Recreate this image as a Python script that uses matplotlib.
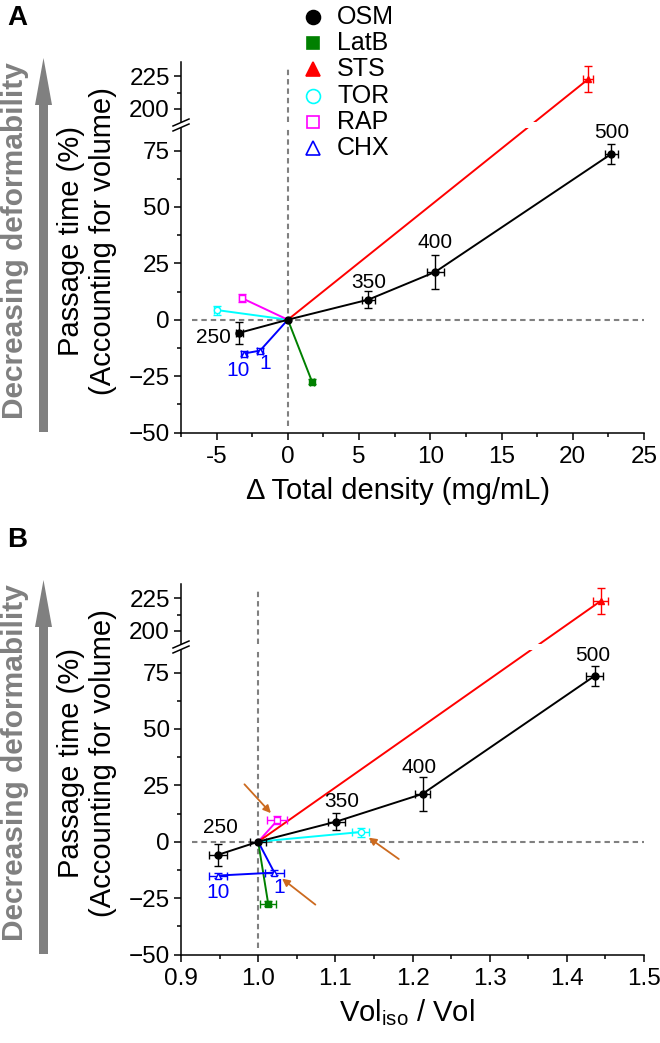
import matplotlib
matplotlib.use("Agg")
import matplotlib.pyplot as plt
from matplotlib.lines import Line2D
from matplotlib.patches import FancyArrow
from matplotlib.ticker import MultipleLocator

plt.rcParams["font.family"] = ["Liberation Sans", "DejaVu Sans"]
plt.rcParams["mathtext.fontset"] = "custom"
plt.rcParams["mathtext.rm"] = "Liberation Sans"

# --- Data ---
# OSM series: 250, 300 (iso = origin), 350, 400, 500 mOsm
osm_labels = ["250", "", "350", "400", "500"]
osm_density = [-3.4, 0.0, 5.65, 10.35, 22.7]
osm_density_err = [0.25, 0.0, 0.47, 0.6, 0.47]
osm_vol = [0.948, 1.0, 1.101, 1.213, 1.436]
osm_vol_err = [0.012, 0.01, 0.011, 0.0095, 0.011]
osm_pt = [-5.8, 0.0, 8.9, 21.2, 73.5]
osm_pt_err = [5.0, 0.0, 3.7, 7.4, 4.6]

drug_names = ["LatB", "STS", "TOR", "RAP"]
drug_density = [1.7, 21.1, -5.0, -3.2]
drug_density_err = [0.15, 0.35, 0.2, 0.2]
drug_vol = [1.013, 1.444, 1.133, 1.025]
drug_vol_err = [0.01, 0.0095, 0.011, 0.013]
drug_pt = [-27.5, 223.0, 4.3, 9.5]
drug_pt_err = [1.0, 10.0, 2.0, 1.8]

chx_doses = ["1", "10"]
chx_density = [-1.95, -3.1]
chx_density_err = [0.2, 0.2]
chx_vol = [1.021, 0.948]
chx_vol_err = [0.012, 0.012]
chx_pt = [-13.7, -15.0]
chx_pt_err = [1.2, 1.2]

legend_names = ["OSM", "LatB", "STS", "TOR", "RAP", "CHX"]
colors = {"OSM": "black", "LatB": "#008000", "STS": "#ff0000",
          "TOR": "#00ffff", "RAP": "#ff00ff", "CHX": "#0000ff"}
markers = {"OSM": "o", "LatB": "s", "STS": "^", "TOR": "o", "RAP": "s", "CHX": "^"}
filled = {"OSM": True, "LatB": True, "STS": True, "TOR": False, "RAP": False, "CHX": False}

W, H = 660, 1043
fig = plt.figure(figsize=(W / 100, H / 100), dpi=100)


def rect(l, t, r, b):
    return [l / W, 1 - b / H, (r - l) / W, (b - t) / H]


def px(x, y):
    return x / W, 1 - y / H


def point(ax, x, y, xe, ye, name, ms=4.5):
    c = colors[name]
    kw = dict(fmt="none", ecolor=c, elinewidth=1, capsize=3, capthick=1, zorder=4)
    if xe > 0:
        ax.errorbar([x], [y], xerr=[xe], **kw)
    if ye > 0:
        ax.errorbar([x], [y], yerr=[ye], **kw)
    ax.plot([x], [y], marker=markers[name], ms=ms, color=c,
            mfc=c if filled[name] else "white", mec=c, mew=1, zorder=5, ls="none")


def panel(dy, letter, xs, xlim, xmaj, xmin, xlabel, xlabel_x, dash_x0, label_offs,
          chx_offs, arrows=False):
    osm_x, osm_xe, drug_x, drug_xe, chx_x, chx_xe = xs
    left, right = 181, 644
    hi = fig.add_axes(rect(left, 62 + dy, right, 122 + dy))
    lo = fig.add_axes(rect(left, 128 + dy, right, 432.5 + dy))
    for ax in (hi, lo):
        ax.set_xlim(*xlim)
        ax.spines["top"].set_visible(False)
        ax.spines["right"].set_visible(False)
        ax.spines["left"].set_linewidth(1.1)
        ax.spines["bottom"].set_linewidth(1.1)
        ax.yaxis.set_minor_locator(MultipleLocator(12.5))
        ax.xaxis.set_major_locator(MultipleLocator(xmaj))
        ax.xaxis.set_minor_locator(MultipleLocator(xmin))
        ax.tick_params(which="major", length=5, width=1.1, labelsize=17.5, pad=3)
        ax.tick_params(which="minor", length=3, width=1.1)
        ax.patch.set_alpha(0)
    hi.set_ylim(190, 236)
    hi.set_yticks([200, 225])
    hi.spines["bottom"].set_visible(False)
    hi.tick_params(axis="x", which="both", bottom=False, labelbottom=False)
    lo.set_ylim(-50, 85)
    lo.set_yticks([-50, -25, 0, 25, 50, 75])
    if xmaj < 1:
        lo.xaxis.set_major_formatter(plt.FuncFormatter(lambda v, p: f"{v:.1f}"))
    else:
        lo.xaxis.set_major_formatter(plt.FuncFormatter(lambda v, p: f"{v:.0f}"))
    lo.tick_params(axis="x", pad=5)

    # reference lines
    ref = dict(color="#808080", lw=1.5, ls=(0, (2.6, 1.9)), zorder=1)
    x0 = osm_x[1]
    lo.plot([dash_x0, xlim[1]], [0, 0], **ref)
    lo.plot([x0, x0], [-47, 85], **ref)
    hi.plot([x0, x0], [190, 232], **ref)

    # series lines from the origin
    lw = 1.4
    lo.plot(osm_x, osm_pt, color="black", lw=lw, zorder=3)
    for i, name in enumerate(drug_names):
        if name == "STS":
            continue
        lo.plot([x0, drug_x[i]], [0, drug_pt[i]], color=colors[name], lw=lw, zorder=2)
    lo.plot([x0] + chx_x, [0] + chx_pt, color=colors["CHX"], lw=lw, zorder=2)

    # STS line straight across the break (pixel space)
    s = drug_names.index("STS")
    d0 = lo.transData.transform((x0, 0))
    d1 = hi.transData.transform((drug_x[s], drug_pt[s]))
    f0, f1 = fig.transFigure.inverted().transform([d0, d1])
    for ax in (lo, hi):
        ax.plot([f0[0], f1[0]], [f0[1], f1[1]], transform=fig.transFigure,
                color=colors["STS"], lw=lw, zorder=2)

    # points
    for i in range(len(osm_x)):
        point(lo, osm_x[i], osm_pt[i], osm_xe[i], osm_pt_err[i], "OSM", ms=5)
    for i, name in enumerate(drug_names):
        ax = hi if name == "STS" else lo
        point(ax, drug_x[i], drug_pt[i], drug_xe[i], drug_pt_err[i], name)
    for i in range(len(chx_x)):
        point(lo, chx_x[i], chx_pt[i], chx_xe[i], chx_pt_err[i], "CHX")

    # labels
    for i, lab in enumerate(osm_labels):
        if lab:
            lo.annotate(lab, (osm_x[i], osm_pt[i]), xytext=label_offs[i],
                        textcoords="offset pixels", ha="center", va="center", fontsize=15)
    for i, lab in enumerate(chx_doses):
        lo.annotate(lab, (chx_x[i], chx_pt[i]), xytext=chx_offs[i],
                    textcoords="offset pixels", ha="center", va="center",
                    fontsize=15, color=colors["CHX"])

    if arrows:
        aprops = dict(arrowstyle="-|>", color="#cc6a1f", lw=1.3, shrinkA=0,
                      shrinkB=7, mutation_scale=11)
        targets = [(drug_x[3], drug_pt[3], (-33, 36)),
                   (drug_x[2], drug_pt[2], (38, -27)),
                   (chx_x[0], chx_pt[0], (41, -32))]
        for tx, ty, off in targets:
            lo.annotate("", (tx, ty), xytext=off, textcoords="offset pixels",
                        arrowprops=aprops, zorder=6)

    # break marks on the left spine
    gy = (122 + 128) / 2 + dy
    for k in (-2.5, 2.5):
        xa, ya = px(left - 8, gy + k + 3.5)
        xb, yb = px(left + 8, gy + k - 3.5)
        fig.add_artist(Line2D([xa, xb], [ya, yb], color="black", lw=1.1))

    # gray arrow and its text
    ax_, ay_ = px(43.5, 432 + dy)
    _, tip = px(43.5, 58 + dy)
    fig.add_artist(FancyArrow(ax_, ay_, 0, tip - ay_, width=9 / W, head_width=17 / W,
                              head_length=47 / H, length_includes_head=True,
                              color="#808080", transform=fig.transFigure, lw=0))
    fig.text(*px(15, 241 + dy), "Decreasing deformability", rotation=90, ha="center",
             va="center", fontsize=21.5, fontweight="bold", color="#808080")
    fig.text(*px(87, 241 + dy), "Passage time (%)\n(Accounting for volume)",
             rotation=90, ha="center", va="center", fontsize=21, linespacing=1.2)
    fig.text(*px(xlabel_x, 491 + dy), xlabel, ha="center", va="center", fontsize=21)
    fig.text(*px(17.5, 18 + dy), letter, ha="center", va="center", fontsize=20,
             fontweight="bold")
    return lo, hi


# label offsets (pixels): OSM labels, then CHX "1", "10"
panel(0, "A", (osm_density, osm_density_err, drug_density, drug_density_err,
               chx_density, chx_density_err),
      (-7.5, 25), 5, 2.5, "\u0394 Total density (mg/mL)", 398, -6.76,
      [(-26, -5), None, (0, 17), (0, 29), (0, 21)], [(5, -13), (-6, -17)])

panel(522, "B", (osm_vol, osm_vol_err, drug_vol, drug_vol_err, chx_vol, chx_vol_err),
      (0.9, 1.5), 0.1, 0.05, r"Vol$_{\mathrm{iso}}$ / Vol", 407, 0.914,
      [(2, 27), None, (6, 20), (-3, 26), (-2, 20)], [(5, -15), (0, -17)], arrows=True)

# legend
msizes = {"o": 10, "s": 8, "^": 10}
for i, name in enumerate(legend_names):
    y = 17 + 26.2 * i
    c = colors[name]
    fig.add_artist(Line2D([313 / W], [1 - y / H], marker=markers[name],
                          ms=msizes[markers[name]], color=c,
                          mfc=c if filled[name] else "white", mec=c, mew=1.2, ls="none"))
    fig.text(337 / W, 1 - y / H, name, ha="left", va="center", fontsize=18)

fig.savefig("out.png", dpi=100)
